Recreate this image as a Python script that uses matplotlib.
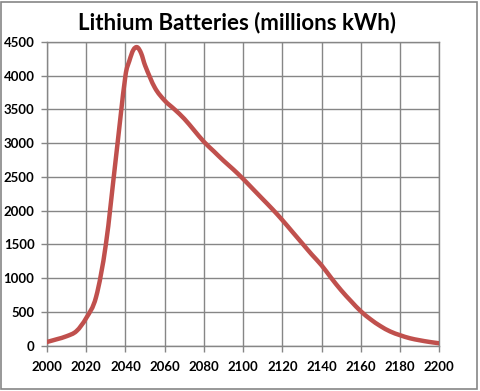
#!/usr/bin/env python3
"""Lithium batteries projection, Excel-style smoothed line chart."""
import matplotlib

matplotlib.use("Agg")

import matplotlib.pyplot as plt  # noqa: E402
from matplotlib.patches import PathPatch, Rectangle  # noqa: E402
from matplotlib.path import Path  # noqa: E402

years = [2000, 2005, 2010, 2015, 2020, 2025, 2030, 2035, 2040, 2042, 2044,
         2046, 2048, 2050, 2055, 2060, 2065, 2070, 2075, 2080, 2085, 2090,
         2095, 2100, 2105, 2110, 2115, 2120, 2125, 2130, 2135, 2140, 2145,
         2150, 2155, 2160, 2165, 2170, 2175, 2180, 2185, 2190, 2195, 2200]
batteries = [55, 95, 140, 215, 410, 720, 1500, 2750, 4000, 4220, 4380,
             4420, 4330, 4150, 3820, 3630, 3500, 3360, 3190, 3020, 2880, 2740,
             2610, 2470, 2320, 2170, 2020, 1860, 1690, 1520, 1350, 1190, 1000,
             820, 660, 510, 390, 290, 210, 155, 110, 80, 55, 35]
x_ticks = list(range(2000, 2201, 20))
y_ticks = list(range(0, 4501, 500))

GRID = "#868686"
LINE = "#C0504D"


def smooth_path(xs, ys):
    """Cubic Bezier path through the points (smoothed line look)."""
    n = len(xs)
    slopes = []
    for i in range(n):
        a, b = max(i - 1, 0), min(i + 1, n - 1)
        slopes.append((ys[b] - ys[a]) / (xs[b] - xs[a]))
    verts = [(xs[0], ys[0])]
    codes = [Path.MOVETO]
    for i in range(n - 1):
        h = (xs[i + 1] - xs[i]) / 3
        verts += [(xs[i] + h, ys[i] + slopes[i] * h),
                  (xs[i + 1] - h, ys[i + 1] - slopes[i + 1] * h),
                  (xs[i + 1], ys[i + 1])]
        codes += [Path.CURVE4] * 3
    return Path(verts, codes)


plt.rcParams["font.family"] = ["Lato", "DejaVu Sans"]

fig = plt.figure(figsize=(4.8, 3.91), dpi=100)
ax = fig.add_axes((0.098, 0.116, 0.817, 0.777))

# invisible line keeps the data limits / autoscale honest
ax.plot(years, batteries, color=LINE, lw=0, alpha=0)
ax.add_patch(PathPatch(smooth_path(years, batteries), fill=False,
                       edgecolor=LINE, lw=3.2, joinstyle="round",
                       capstyle="round", zorder=3))

ax.set_xlim(2000, 2200)
ax.set_ylim(0, 4500)
ax.set_xticks(x_ticks)
ax.set_yticks(y_ticks)
ax.grid(True, color=GRID, lw=1.0)
ax.set_axisbelow(True)
for s in ax.spines.values():
    s.set_color(GRID)
    s.set_linewidth(1.0)
ax.tick_params(axis="both", direction="out", length=4, width=1.0,
               color=GRID, labelsize=9.5, pad=5)
ax.tick_params(axis="x", pad=7)
for lab in ax.get_xticklabels() + ax.get_yticklabels():
    lab.set_fontweight("bold")

fig.text(0.494, 0.943, "Lithium Batteries (millions kWh)", ha="center",
         va="center", fontsize=16, fontweight="bold")

fig.patches.append(Rectangle((0.002, 0.004), 0.992, 0.992,
                             transform=fig.transFigure, fill=False,
                             edgecolor=GRID, lw=1.2))

fig.savefig("out.png", dpi=100)
